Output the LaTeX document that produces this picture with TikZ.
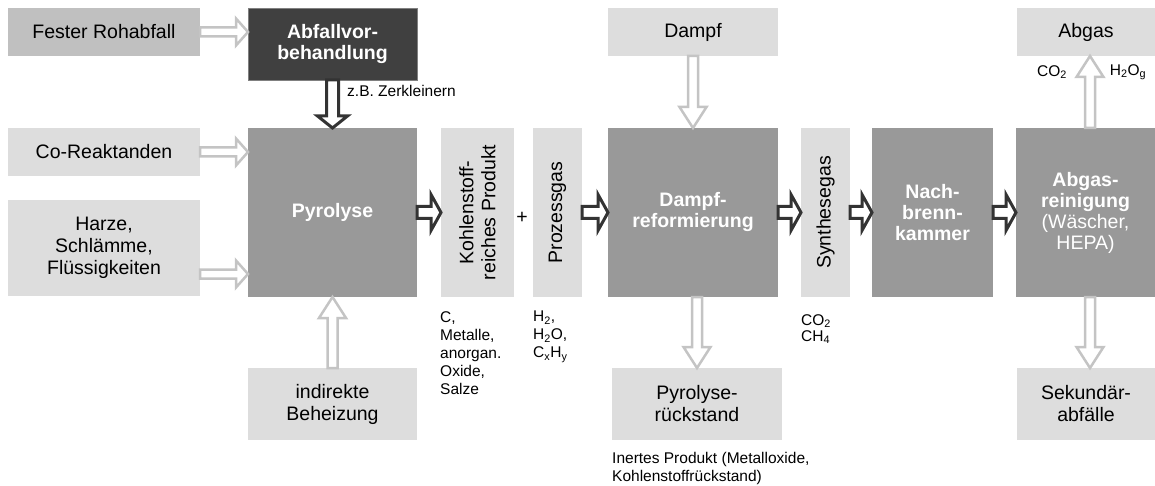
\documentclass[tikz,border=0pt]{standalone}
\usepackage{fontspec}
\setmainfont{Liberation Sans}
\usetikzlibrary{calc}

\definecolor{hellgrau}{HTML}{DDDDDD}
\definecolor{mittelgrau}{HTML}{C0C0C0}
\definecolor{prozessgrau}{HTML}{999999}
\definecolor{dunkelgrau}{HTML}{404040}
\definecolor{pfeilhell}{HTML}{C4C4C4}
\definecolor{pfeildunkel}{HTML}{333333}

\tikzset{
  kasten/.style={fill=hellgrau, inner sep=0pt, outer sep=0pt, align=center,
    font=\fontsize{19.5}{22}\selectfont},
  prozess/.style={kasten, fill=prozessgrau, text=white,
    font=\fontsize{19.5}{21}\selectfont\bfseries},
  notiz/.style={align=left, inner sep=0pt, font=\fontsize{15.5}{18}\selectfont},
  pfeil/.style n args={3}{to path={
    let \p1=(\tikztostart), \p2=(\tikztotarget),
        \n1={veclen(\x2-\x1,\y2-\y1)},
        \n2={(\x2-\x1)/\n1}, \n3={(\y2-\y1)/\n1} in
    ({\x1-\n3*#1},{\y1+\n2*#1})
    -- ({\x2-\n2*#3-\n3*#1},{\y2-\n3*#3+\n2*#1})
    -- ({\x2-\n2*#3-\n3*#2},{\y2-\n3*#3+\n2*#2})
    -- (\x2,\y2)
    -- ({\x2-\n2*#3+\n3*#2},{\y2-\n3*#3-\n2*#2})
    -- ({\x2-\n2*#3+\n3*#1},{\y2-\n3*#3-\n2*#1})
    -- ({\x1+\n3*#1},{\y1-\n2*#1}) -- cycle}},
  hell/.style={draw=pfeilhell, line width=2.5pt, fill=white},
  dunkel/.style={draw=pfeildunkel, line width=3pt, fill=white},
}

\begin{document}
\begin{tikzpicture}[x=1pt, y=-1pt]
  \useasboundingbox (0,0) rectangle (1155,486);

  % Eingaenge
  \node[kasten, fill=mittelgrau, minimum width=192pt, minimum height=48pt] (roh) at (104,32) {Fester Rohabfall};
  \node[kasten, minimum width=192pt, minimum height=48pt] (co) at (104,152) {Co-Reaktanden};
  \node[kasten, minimum width=192pt, minimum height=96pt] (harz) at (104,248) {Harze,\\Schlämme,\\Flüssigkeiten};
  \node[prozess, fill=dunkelgrau, draw=gray, line width=0.8pt, minimum width=169pt, minimum height=72pt] (vor) at (332.5,44) {Abfallvor-\\behandlung};
  \node[kasten, minimum width=169pt, minimum height=72pt] (heiz) at (332.5,404) {indirekte\\Beheizung};
  \node[kasten, minimum width=170pt, minimum height=48pt] (dampf) at (693,32) {Dampf};

  % Prozessschritte
  \node[prozess, minimum width=169pt, minimum height=169pt] (pyr) at (332.5,212.5) {Pyrolyse};
  \node[kasten, rotate=90, minimum width=169pt, minimum height=73pt] (kohl) at (477.5,212.5) {Kohlenstoff-\\reiches Produkt};
  \node[kasten, rotate=90, minimum width=169pt, minimum height=49pt] (proz) at (557.5,212.5) {Prozessgas};
  \node[prozess, minimum width=170pt, minimum height=169pt] (dr) at (693,212.5) {Dampf-\\reformierung};
  \node[kasten, rotate=90, minimum width=169pt, minimum height=49pt] (syn) at (825.5,212.5) {Synthesegas};
  \node[prozess, minimum width=121pt, minimum height=169pt] (nb) at (932.5,212.5) {Nach-\\brenn-\\kammer};
  \node[prozess, minimum width=139pt, minimum height=169pt] (ar) at (1085.5,212.5) {Abgas-\\reinigung\\\mdseries(Wäscher,\\\mdseries HEPA)};

  % Ausgaenge
  \node[kasten, minimum width=138pt, minimum height=48pt] (abgas) at (1086,32) {Abgas};
  \node[kasten, minimum width=170pt, minimum height=72pt] (rk) at (697,404) {Pyrolyse-\\rückstand};
  \node[kasten, minimum width=138pt, minimum height=72pt] (sek) at (1086,404) {Sekundär-\\abfälle};

  % Beschriftungen
  \node[notiz, anchor=west] (zerkl) at (347,91) {z.B. Zerkleinern};
  \node[font=\fontsize{19.5}{22}\selectfont, inner sep=0pt] (plus) at (522,218) {+};
  \node[notiz, anchor=north west] (feststoff) at (440,311) {C,\\Metalle,\\anorgan.\\Oxide,\\Salze};
  \node[notiz, anchor=north west] (gas) at (533,311) {H\textsubscript{2},\\H\textsubscript{2}O,\\C\textsubscript{x}H\textsubscript{y}};
  \node[notiz, anchor=north west, font=\fontsize{15.5}{16}\selectfont] (syngas) at (801,314) {CO\textsubscript{2}\\CH\textsubscript{4}};
  \node[notiz, anchor=north west] (inert) at (612,452) {Inertes Produkt (Metalloxide,\\Kohlenstoffrückstand)};
  \node[notiz] (co2) at (1052,72) {CO\textsubscript{2}};
  \node[notiz] (h2o) at (1128,72) {H\textsubscript{2}O\textsubscript{g}};

  \coordinate (harzaus) at ([yshift=-26pt]harz.east);
  \coordinate (araus) at ([xshift=4.5pt]ar.north);
  \coordinate (arab) at ([xshift=4.5pt]ar.south);

  % helle Pfeile
  \draw[hell] (roh.east) to[pfeil={4.5pt}{13.5pt}{12pt}] (roh.east -| vor.west);
  \draw[hell] (co.east) to[pfeil={4.5pt}{13.5pt}{12pt}] (co.east -| pyr.west);
  \draw[hell] (harzaus) to[pfeil={4.5pt}{13.5pt}{12pt}] (harzaus -| pyr.west);
  \draw[hell] (heiz.north) to[pfeil={5pt}{13.5pt}{21pt}] (pyr.south);
  \draw[hell] (dampf.south) to[pfeil={5pt}{13.5pt}{21pt}] (dr.north);
  \draw[hell] (rk.north |- dr.south) to[pfeil={5pt}{13.5pt}{21pt}] (rk.north);
  \draw[hell] (araus) to[pfeil={5pt}{13.5pt}{21pt}] (araus |- abgas.south);
  \draw[hell] (arab) to[pfeil={5pt}{13.5pt}{21pt}] (arab |- sek.north);

  % dunkle Pfeile
  \draw[dunkel] (vor.south) to[pfeil={6pt}{15pt}{12pt}] (pyr.north);
  \draw[dunkel] (pyr.east) to[pfeil={6pt}{18pt}{10pt}] (kohl.north);
  \draw[dunkel] (proz.south) to[pfeil={6pt}{18pt}{10pt}] (dr.west);
  \draw[dunkel] (dr.east) to[pfeil={6pt}{18pt}{10pt}] (syn.north);
  \draw[dunkel] (syn.south) to[pfeil={6pt}{18pt}{10pt}] (nb.west);
  \draw[dunkel] (nb.east) to[pfeil={6pt}{18pt}{10pt}] (ar.west);
\end{tikzpicture}
\end{document}
